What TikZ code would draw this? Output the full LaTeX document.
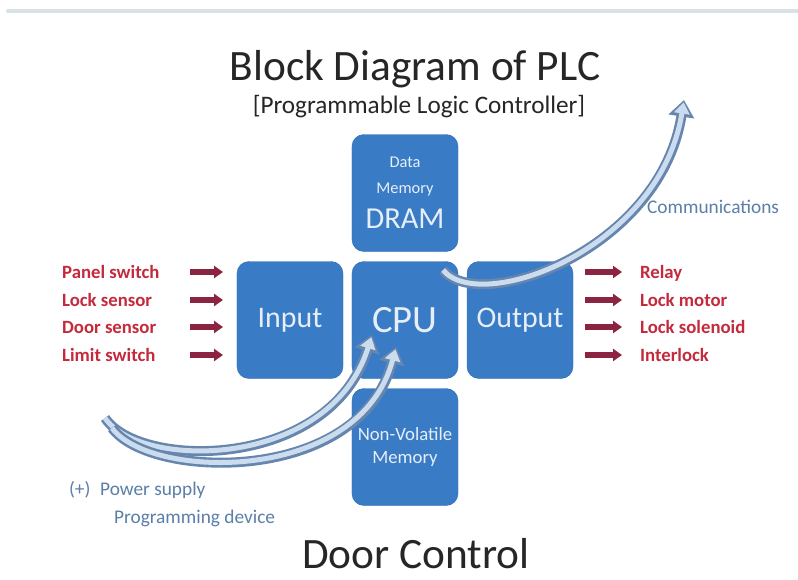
\documentclass[tikz,border=0pt]{standalone}
\usepackage{fontspec}
\setmainfont{Carlito}
\usetikzlibrary{arrows.meta}
\definecolor{ink}{HTML}{262626}
\definecolor{boxblue}{HTML}{3A7BC6}
\definecolor{boxedge}{HTML}{2F6CB3}
\definecolor{boxtext}{HTML}{E6EEF8}
\definecolor{redlab}{HTML}{C42A3C}
\definecolor{maroon}{HTML}{8C2341}
\definecolor{steel}{HTML}{5A7FA8}
\definecolor{bandedge}{HTML}{6786AE}
\definecolor{bandfill}{HTML}{CBDCEF}
\definecolor{rulegray}{HTML}{D8E1E5}

\begin{document}
\begin{tikzpicture}[x=.03cm,y=-.03cm,line cap=round,line join=round,
  plcbox/.style={fill=boxblue,draw=boxedge,rounded corners=.36cm,
    minimum width=3.18cm,minimum height=3.51cm,text=boxtext,align=center,inner sep=0pt},
  siglab/.style={font=\fontsize{16}{18}\selectfont\bfseries,text=redlab,anchor=base west},
  feed/.style={maroon,line width=1.7mm,line cap=butt,-{Triangle[length=2.7mm,width=3.6mm]}},
  band/.style={draw=bandedge,line width=3mm,line cap=butt,
    -{Triangle[length=5mm,width=7.5mm]},
    postaction={draw=bandfill,line width=1.5mm,-{Triangle[length=3.4mm,width=4.6mm]},shorten >=.7mm}},
  note/.style={font=\fontsize{16.5}{18}\selectfont,text=steel,anchor=base west}]
  \useasboundingbox (0,0) rectangle (798,580);
  \fill[white] (0,0) rectangle (798,580);

  \coordinate (ruleL) at (8,11);
  \coordinate (ruleR) at (798,11);
  \draw[rulegray,line width=1.2mm] (ruleL)--(ruleR);

  \node[font=\fontsize{37}{40}\selectfont,text=ink,anchor=base] (title) at (415,80)
    {Block Diagram of PLC};
  \node[font=\fontsize{21.5}{24}\selectfont,text=ink,anchor=base] (subtitle) at (419,113)
    {[Programmable Logic Controller]};

  \node[plcbox,font=\fontsize{14}{22}\selectfont] (dram) at (405,193)
    {Data\\Memory\\[8pt]{\fontsize{26}{28}\selectfont DRAM}};
  \node[plcbox,font=\fontsize{25.5}{28}\selectfont] (input) at (290,320) {Input};
  \node[plcbox,font=\fontsize{33}{36}\selectfont] (cpu) at (405,320) {CPU};
  \node[plcbox,font=\fontsize{25.5}{28}\selectfont] (output) at (520,320) {Output};
  \node[plcbox,font=\fontsize{16}{19}\selectfont] (nvm) at (405,447)
    {Non-Volatile\\Memory};

  \foreach \txt/\yy [count=\i] in {Panel switch/272,Lock sensor/300,
      Door sensor/327,Limit switch/355}{
    \node[siglab] (in\i) at (58,\yy+6) {\txt};
    \coordinate (ina\i) at (190,\yy);
    \coordinate (inb\i) at (223,\yy);
    \draw[feed] (ina\i)--(inb\i);
  }
  \foreach \txt/\yy [count=\i] in {Relay/272,Lock motor/300,
      Lock solenoid/327,Interlock/355}{
    \node[siglab] (out\i) at (636,\yy+6) {\txt};
    \coordinate (outa\i) at (585,\yy);
    \coordinate (outb\i) at (622,\yy);
    \draw[feed] (outa\i)--(outb\i);
  }

  \coordinate (comstart) at (443,270);
  \coordinate (comtip) at (684,100);
  \draw[band] (comstart) .. controls (480,315) and (660,250) .. (comtip);
  \node[note] (comm) at (643,213) {Communications};

  \coordinate (pwtail) at (105,418);
  \coordinate (pwhead) at (372,335);
  \coordinate (pgtail) at (112,428);
  \coordinate (pghead) at (396,347);
  \draw[band] (pwtail) .. controls (140,470) and (330,470) .. (pwhead);
  \draw[band] (pgtail) .. controls (150,480) and (360,485) .. (pghead);
  \node[note] (power) at (65,495) {(+)\enspace Power supply};
  \node[note] (progdev) at (110,523) {Programming device};

  \node[font=\fontsize{37}{40}\selectfont,text=ink,anchor=base] (door) at (416,568)
    {Door Control};
\end{tikzpicture}
\end{document}
